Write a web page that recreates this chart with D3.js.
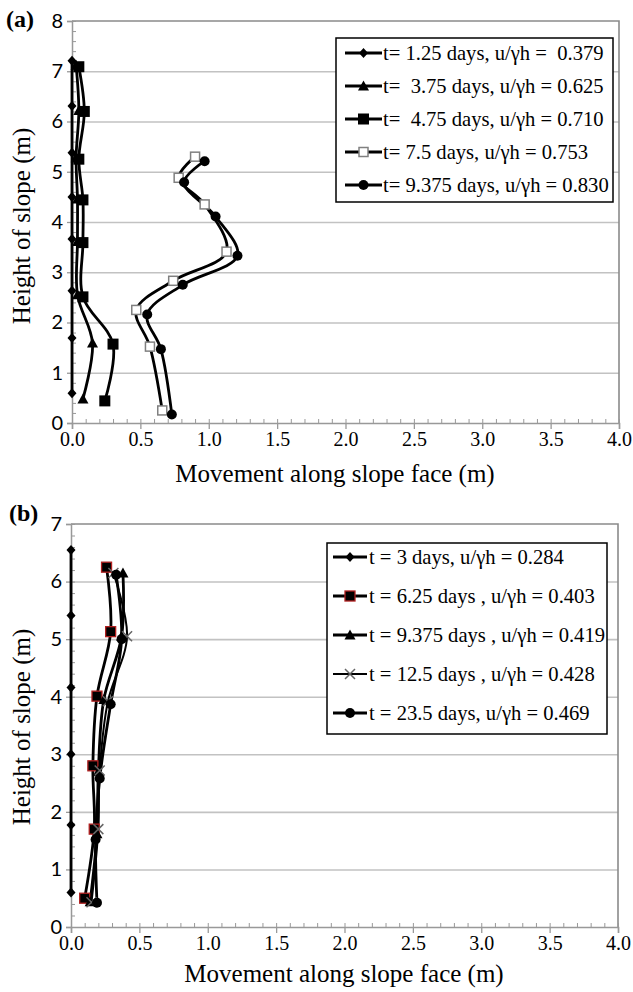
<!DOCTYPE html>
<html>
<head>
<meta charset="utf-8">
<script src="https://cdn.jsdelivr.net/npm/d3@7"></script>
<style>
  body { margin: 0; background: #fff; }
</style>
</head>
<body>
<svg id="chart" width="633" height="992"></svg>
<script>
'use strict';

// ---- data ----
var xTicks = [0, 0.5, 1.0, 1.5, 2.0, 2.5, 3.0, 3.5, 4.0];
var yTicksA = [0, 1, 2, 3, 4, 5, 6, 7, 8];
var yTicksB = [0, 1, 2, 3, 4, 5, 6, 7];

// panel (a)
var legendA = [
  't= 1.25 days, u/\u03B3h =  0.379',
  't=  3.75 days, u/\u03B3h = 0.625',
  't=  4.75 days, u/\u03B3h = 0.710',
  't= 7.5 days, u/\u03B3h = 0.753',
  't= 9.375 days, u/\u03B3h = 0.830'
];
var heightA1 = [7.21, 6.31, 5.38, 4.50, 3.66, 2.63, 1.69, 0.59];
var moveA1   = [0.00, 0.00, 0.00, 0.00, 0.00, 0.00, 0.00, 0.00];
var heightA2 = [7.12, 6.22, 5.28, 4.46, 3.61, 2.55, 1.59, 0.48];
var moveA2   = [0.03, 0.05, 0.03, 0.04, 0.04, 0.04, 0.15, 0.08];
var heightA3 = [7.09, 6.20, 5.25, 4.44, 3.59, 2.51, 1.57, 0.44];
var moveA3   = [0.05, 0.09, 0.05, 0.08, 0.08, 0.08, 0.30, 0.24];
var heightA4 = [5.30, 4.88, 4.35, 3.41, 2.83, 2.25, 1.52, 0.25];
var moveA4   = [0.90, 0.78, 0.97, 1.13, 0.74, 0.47, 0.57, 0.66];
var heightA5 = [5.21, 4.79, 4.11, 3.33, 2.75, 2.16, 1.47, 0.17];
var moveA5   = [0.97, 0.82, 1.05, 1.21, 0.81, 0.55, 0.65, 0.73];

// panel (b)
var legendB = [
  't = 3 days, u/\u03B3h = 0.284',
  't = 6.25 days , u/\u03B3h = 0.403',
  't = 9.375 days , u/\u03B3h = 0.419',
  't = 12.5 days , u/\u03B3h = 0.428',
  't = 23.5 days, u/\u03B3h = 0.469'
];
var heightB1 = [6.55, 5.41, 4.16, 3.00, 1.77, 0.60];
var moveB1   = [0.00, 0.00, 0.00, 0.00, 0.00, 0.00];
var heightB2 = [6.25, 5.13, 4.01, 2.80, 1.70, 0.50];
var moveB2   = [0.26, 0.29, 0.19, 0.16, 0.17, 0.10];
var heightB3 = [6.15, 5.05, 3.95, 2.70, 1.62, 0.44];
var moveB3   = [0.38, 0.37, 0.24, 0.20, 0.19, 0.14];
var heightB4 = [6.15, 5.05, 3.92, 2.72, 1.70, 0.43];
var moveB4   = [0.31, 0.41, 0.27, 0.21, 0.20, 0.15];
var heightB5 = [6.12, 5.00, 3.87, 2.58, 1.52, 0.42];
var moveB5   = [0.33, 0.37, 0.29, 0.21, 0.18, 0.19];

var serif = '"Liberation Serif", "Times New Roman", serif';
var sans = 'Lato, "Liberation Sans", sans-serif';

var svg = d3.select('#chart');

function pairs(m, h) {
  return m.map(function (v, i) { return [v, h[i]]; });
}

// marker shapes
function marker(g, type, cx, cy) {
  if (type === 'diamond') {
    g.append('path').attr('d', 'M' + cx + ',' + (cy - 5) + 'L' + (cx + 4.5) + ',' + cy + 'L' + cx + ',' + (cy + 5) + 'L' + (cx - 4.5) + ',' + cy + 'Z').attr('fill', '#000');
  } else if (type === 'triangle') {
    g.append('path').attr('d', 'M' + cx + ',' + (cy - 5.5) + 'L' + (cx + 5.5) + ',' + (cy + 4.5) + 'L' + (cx - 5.5) + ',' + (cy + 4.5) + 'Z').attr('fill', '#000');
  } else if (type === 'square') {
    g.append('rect').attr('x', cx - 5.5).attr('y', cy - 5.5).attr('width', 11).attr('height', 11).attr('fill', '#000');
  } else if (type === 'openSquare') {
    g.append('rect').attr('x', cx - 4.5).attr('y', cy - 4.5).attr('width', 9).attr('height', 9).attr('fill', '#fff').attr('stroke', '#808080').attr('stroke-width', 1.5);
  } else if (type === 'circle') {
    g.append('circle').attr('cx', cx).attr('cy', cy).attr('r', 5).attr('fill', '#000');
  } else if (type === 'redSquare') {
    g.append('rect').attr('x', cx - 5).attr('y', cy - 5).attr('width', 10).attr('height', 10).attr('fill', '#000').attr('stroke', '#b02020').attr('stroke-width', 1.3);
  } else if (type === 'cross') {
    g.append('path').attr('d', 'M' + (cx - 5) + ',' + (cy - 5) + 'L' + (cx + 5) + ',' + (cy + 5) + 'M' + (cx + 5) + ',' + (cy - 5) + 'L' + (cx - 5) + ',' + (cy + 5)).attr('stroke', '#666').attr('stroke-width', 1.5);
  }
}

function drawPanel(p) {
  var x = d3.scaleLinear().domain([0, 4]).range([p.left, p.right]);
  var y = d3.scaleLinear().domain([0, p.yMax]).range([p.bottom, p.top]);
  var g = svg.append('g');

  // horizontal gridlines
  g.append('g')
    .attr('transform', 'translate(' + p.left + ',0)')
    .call(d3.axisLeft(y).tickValues(p.yTicks.filter(function (v) { return v > 0 && v < p.yMax; }))
      .tickSize(-(p.right - p.left)).tickFormat(''))
    .call(function (a) { a.select('.domain').remove(); })
    .selectAll('line').attr('stroke', '#c2c2c2').attr('stroke-width', 1.6);

  // top and right frame
  g.append('path')
    .attr('d', 'M' + p.left + ',' + p.top + 'H' + p.right + 'V' + p.bottom)
    .attr('fill', 'none').attr('stroke', '#8a8a8a').attr('stroke-width', 1.6);

  // minor ticks
  var minorY = d3.range(0, p.yMax * 5 + 1).map(function (i) { return i / 5; });
  var minorX = d3.range(0, 41).map(function (i) { return i / 10; });
  g.append('g')
    .attr('transform', 'translate(' + p.left + ',0)')
    .call(d3.axisRight(y).tickValues(minorY).tickSize(4).tickFormat(''))
    .call(function (a) { a.select('.domain').remove(); })
    .selectAll('line').attr('stroke', '#999');
  g.append('g')
    .attr('transform', 'translate(0,' + p.bottom + ')')
    .call(d3.axisTop(x).tickValues(minorX).tickSize(4).tickFormat(''))
    .call(function (a) { a.select('.domain').remove(); })
    .selectAll('line').attr('stroke', '#999');

  // y axis
  var ya = g.append('g')
    .attr('transform', 'translate(' + p.left + ',0)')
    .call(d3.axisLeft(y).tickValues(p.yTicks).tickSize(5).tickPadding(4).tickFormat(d3.format('d')));
  ya.select('.domain').attr('stroke', '#999').attr('stroke-width', 1.5);
  ya.selectAll('line').attr('stroke', '#999').attr('stroke-width', 1.3);
  ya.selectAll('text').attr('font-family', sans).attr('font-size', 20).attr('fill', '#000');

  // x axis
  var xa = g.append('g')
    .attr('transform', 'translate(0,' + p.bottom + ')')
    .call(d3.axisBottom(x).tickValues(xTicks).tickSize(6).tickPadding(3).tickFormat(d3.format('.1f')));
  xa.select('.domain').attr('stroke', '#999').attr('stroke-width', 1.5);
  xa.selectAll('line').attr('stroke', '#999').attr('stroke-width', 1.3);
  xa.selectAll('text').attr('font-family', serif).attr('font-size', 20).attr('fill', '#000');

  // series
  var line = d3.line()
    .x(function (d) { return x(d[0]); })
    .y(function (d) { return y(d[1]); })
    .curve(d3.curveCatmullRom.alpha(0.5));

  p.series.forEach(function (s) {
    g.append('path').attr('d', line(s.points))
      .attr('fill', 'none').attr('stroke', '#000')
      .attr('stroke-width', s.width || 2.8).attr('stroke-linejoin', 'round');
  });
  p.series.forEach(function (s) {
    s.points.forEach(function (d) { marker(g, s.marker, x(d[0]), y(d[1])); });
  });

  // legend
  var L = p.legend;
  g.append('rect')
    .attr('x', L.x).attr('y', L.y).attr('width', L.w).attr('height', L.h)
    .attr('fill', '#fff').attr('stroke', '#000').attr('stroke-width', 1.5);
  p.series.forEach(function (s, i) {
    var ry = L.row0 + i * L.step;
    g.append('line')
      .attr('x1', L.lx0).attr('x2', L.lx1).attr('y1', ry).attr('y2', ry)
      .attr('stroke', '#000').attr('stroke-width', s.width || 2.8);
    marker(g, s.marker, (L.lx0 + L.lx1) / 2, ry);
    g.append('text')
      .attr('x', L.tx).attr('y', ry + 7)
      .attr('font-family', serif).attr('font-size', 20.6)
      .attr('xml:space', 'preserve')
      .style('white-space', 'pre')
      .text(s.label);
  });

  // labels
  g.append('text')
    .attr('x', p.letterX).attr('y', p.letterY)
    .attr('font-family', serif).attr('font-weight', 'bold').attr('font-size', 24)
    .text(p.letter);
  g.append('text')
    .attr('transform', 'translate(' + p.yTitleX + ',' + p.yTitleY + ') rotate(-90)')
    .attr('text-anchor', 'middle')
    .attr('font-family', serif).attr('font-size', 25)
    .text('Height of slope (m)');
  g.append('text')
    .attr('x', p.xTitleX).attr('y', p.xTitleY)
    .attr('text-anchor', 'middle')
    .attr('font-family', serif).attr('font-size', 25)
    .text('Movement along slope face (m)');
}

var markersA = ['diamond', 'triangle', 'square', 'openSquare', 'circle'];
var markersB = ['diamond', 'redSquare', 'triangle', 'cross', 'circle'];

drawPanel({
  left: 72, right: 619, top: 21, bottom: 423, yMax: 8, yTicks: yTicksA,
  letter: '(a)', letterX: 6, letterY: 27,
  yTitleX: 30, yTitleY: 226,
  xTitleX: 335, xTitleY: 482,
  legend: { x: 336, y: 38, w: 277, h: 164, row0: 53, step: 33, lx0: 345, lx1: 382, tx: 383 },
  series: [
    { points: pairs(moveA1, heightA1), marker: markersA[0], label: legendA[0] },
    { points: pairs(moveA2, heightA2), marker: markersA[1], label: legendA[1] },
    { points: pairs(moveA3, heightA3), marker: markersA[2], label: legendA[2] },
    { points: pairs(moveA4, heightA4), marker: markersA[3], label: legendA[3] },
    { points: pairs(moveA5, heightA5), marker: markersA[4], label: legendA[4] }
  ]
});

drawPanel({
  left: 71, right: 618, top: 524, bottom: 927, yMax: 7, yTicks: yTicksB,
  letter: '(b)', letterX: 9, letterY: 521,
  yTitleX: 30, yTitleY: 727,
  xTitleX: 344, xTitleY: 982,
  legend: { x: 327, y: 543, w: 280, h: 191, row0: 557, step: 39, lx0: 333, lx1: 367, tx: 369 },
  series: [
    { points: pairs(moveB1, heightB1), marker: markersB[0], label: legendB[0] },
    { points: pairs(moveB2, heightB2), marker: markersB[1], label: legendB[1] },
    { points: pairs(moveB3, heightB3), marker: markersB[2], label: legendB[2] },
    { points: pairs(moveB4, heightB4), marker: markersB[3], label: legendB[3], width: 2 },
    { points: pairs(moveB5, heightB5), marker: markersB[4], label: legendB[4] }
  ]
});
</script>
</body>
</html>
